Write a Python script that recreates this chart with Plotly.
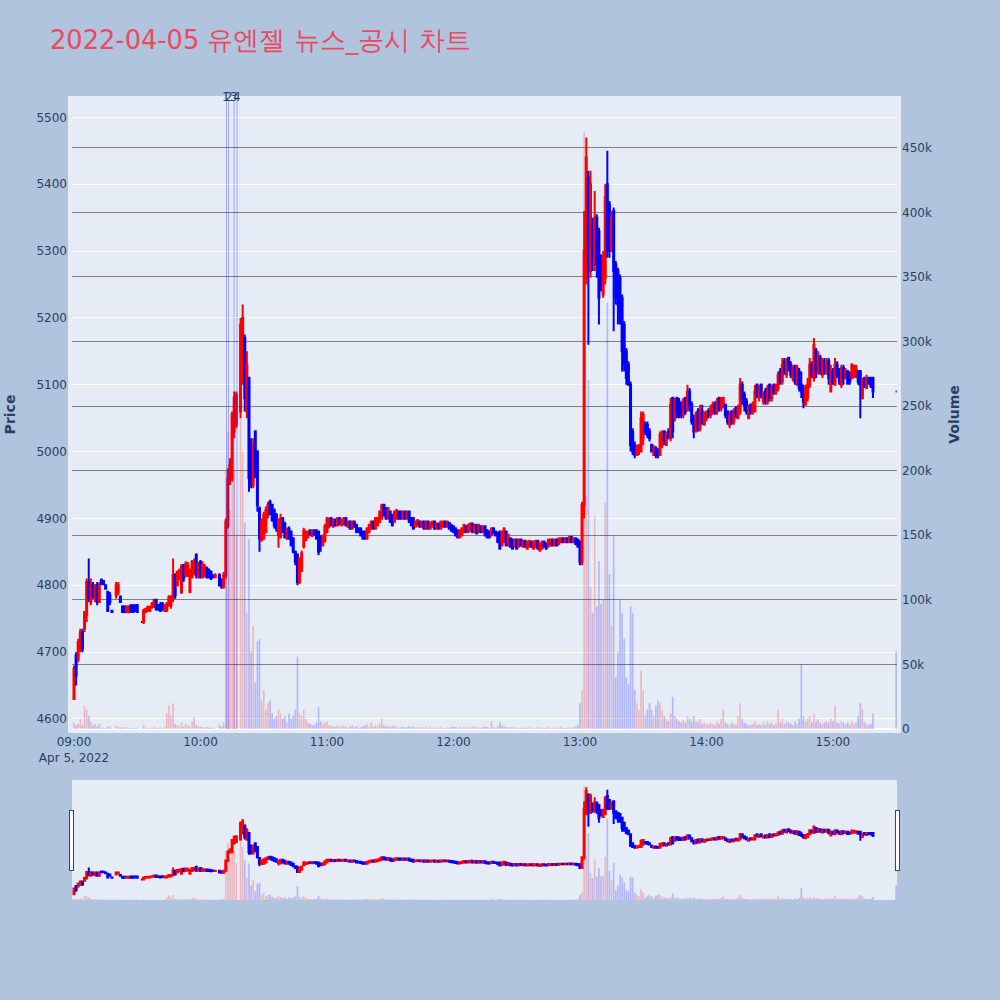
import pandas as pd
import plotly.graph_objects as go
from plotly.subplots import make_subplots

trade_date = "2022-04-05"
chart_title = "2022-04-05 유엔젤 뉴스_공시 차트"

# minutes after 09:00 that have a candle
minutes = (list(range(0, 19)) + list(range(20, 31)) + list(range(32, 68))
           + list(range(69, 78)) + list(range(79, 380)) + [390])

open_ = [
    # 09:00-09:18
    4630, 4695, 4690, 4705, 4730, 4735, 4755, 4805, 4775, 4800, 4780, 4800, 4775, 4808, 4806, 4800, 4790, 4785, 4762,
    # 09:20-09:30
    4785, 4790, 4782, 4768, 4768, 4760, 4760, 4770, 4770, 4770, 4770,
    # 09:32-10:07
    4745, 4745, 4760, 4762, 4762, 4768, 4768, 4778, 4770, 4770,
    4772, 4762, 4762, 4770, 4770, 4780, 4815, 4800, 4810, 4790,
    4830, 4815, 4815, 4790, 4812, 4818, 4845, 4815, 4835, 4812,
    4815, 4825, 4822, 4820, 4815, 4812,
    # 10:09-10:17
    4815, 4808, 4798, 4815, 4890, 4960, 4960, 5030, 5040,
    # 10:19-15:19
    5060, 5110, 5170, 5060, 5110, 5000, 4950, 5030, 5000, 4915,
    4868, 4870, 4880, 4905, 4925, 4920, 4912, 4905, 4875, 4872,
    4900, 4892, 4870, 4885, 4880, 4870, 4850, 4845, 4805, 4822,
    4858, 4868, 4872, 4882, 4874, 4882, 4882, 4880, 4872, 4860,
    4866, 4880, 4890, 4900, 4888, 4898, 4890, 4900, 4890, 4893,
    4900, 4888, 4895, 4885, 4895, 4890, 4885, 4885, 4880, 4880,
    4870, 4880, 4885, 4895, 4885, 4890, 4895, 4900, 4920, 4915,
    4900, 4910, 4905, 4895, 4900, 4910, 4910, 4900, 4910, 4900,
    4910, 4900, 4900, 4888, 4890, 4895, 4888, 4895, 4885, 4895,
    4885, 4888, 4895, 4885, 4892, 4885, 4888, 4895, 4888, 4893,
    4890, 4888, 4885, 4882, 4872, 4875, 4880, 4888, 4880, 4882,
    4892, 4880, 4890, 4880, 4888, 4880, 4888, 4882, 4880, 4875,
    4885, 4880, 4878, 4880, 4860, 4865, 4880, 4860, 4870, 4868,
    4858, 4868, 4858, 4868, 4858, 4866, 4855, 4858, 4865, 4855,
    4858, 4866, 4852, 4855, 4865, 4862, 4858, 4860, 4868, 4860,
    4868, 4862, 4865, 4870, 4865, 4870, 4865, 4872, 4865, 4870,
    4868, 4865, 4835, 4920, 5260, 5410, 5270, 5340, 5280, 5350,
    5330, 5290, 5235, 5260, 5400, 5370, 5300, 5360, 5280, 5270,
    5260, 5230, 5190, 5150, 5130, 5100, 5030, 5010, 4995, 5000,
    5000, 5020, 5040, 5040, 5030, 5010, 4995, 5005, 5000, 4995,
    5010, 5030, 5010, 5030, 5020, 5080, 5050, 5080, 5075, 5070,
    5055, 5080, 5065, 5090, 5070, 5050, 5030, 5060, 5035, 5060,
    5040, 5050, 5060, 5055, 5060, 5070, 5060, 5080, 5065, 5070,
    5070, 5060, 5040, 5060, 5045, 5065, 5050, 5060, 5100, 5085,
    5075, 5050, 5070, 5060, 5060, 5100, 5080, 5100, 5075, 5090,
    5075, 5100, 5080, 5100, 5090, 5095, 5120, 5105, 5135, 5115,
    5140, 5130, 5110, 5125, 5100, 5120, 5100, 5095, 5070, 5080,
    5100, 5130, 5110, 5150, 5120, 5140, 5115, 5135, 5120, 5135,
    5090, 5120, 5100, 5130, 5120, 5100, 5125, 5110, 5120, 5115,
    5110, 5115, 5112, 5120, 5120, 5080, 5110, 5095, 5110, 5110,
    5110,
    # 15:30
    5090,
]

high = [
    4680, 4700, 4720, 4735, 4735, 4760, 4810, 4840, 4810, 4805, 4800, 4805, 4805, 4810, 4808, 4800, 4792, 4790, 4762,
    4805, 4805, 4785, 4770, 4770, 4770, 4770, 4770, 4770, 4770, 4772,
    4745, 4765, 4765, 4768, 4768, 4775, 4780, 4780, 4772, 4775,
    4775, 4770, 4775, 4785, 4785, 4840, 4818, 4822, 4825, 4832,
    4832, 4836, 4835, 4825, 4838, 4840, 4848, 4835, 4838, 4836,
    4832, 4828, 4825, 4822, 4815, 4818,
    4818, 4810, 4820, 4900, 4975, 4990, 5060, 5090, 5090,
    5200, 5220, 5175, 5150, 5112, 5020, 5020, 5032, 5002, 4918,
    4900, 4910, 4918, 4925, 4928, 4922, 4915, 4908, 4900, 4907,
    4902, 4895, 4886, 4888, 4882, 4872, 4852, 4848, 4842, 4852,
    4886, 4882, 4882, 4884, 4884, 4884, 4884, 4882, 4875, 4876,
    4892, 4902, 4900, 4902, 4900, 4900, 4902, 4902, 4900, 4902,
    4902, 4897, 4897, 4897, 4897, 4892, 4887, 4887, 4882, 4882,
    4887, 4892, 4897, 4897, 4902, 4902, 4912, 4922, 4922, 4917,
    4917, 4912, 4907, 4912, 4914, 4912, 4912, 4912, 4912, 4912,
    4912, 4902, 4902, 4897, 4899, 4897, 4897, 4897, 4897, 4897,
    4895, 4897, 4897, 4894, 4894, 4897, 4897, 4897, 4897, 4895,
    4892, 4890, 4887, 4884, 4884, 4887, 4892, 4890, 4892, 4894,
    4894, 4892, 4892, 4892, 4890, 4890, 4890, 4884, 4882, 4887,
    4887, 4882, 4880, 4882, 4882, 4887, 4882, 4877, 4872, 4870,
    4870, 4870, 4870, 4870, 4868, 4868, 4867, 4868, 4867, 4867,
    4868, 4868, 4864, 4867, 4867, 4864, 4870, 4870, 4870, 4870,
    4870, 4872, 4872, 4872, 4872, 4872, 4874, 4874, 4872, 4872,
    4870, 4867, 4925, 5360, 5470, 5420, 5420, 5350, 5390, 5355,
    5335, 5295, 5300, 5400, 5450, 5375, 5360, 5365, 5285, 5275,
    5265, 5235, 5195, 5155, 5135, 5105, 5035, 5015, 5010, 5010,
    5060, 5060, 5045, 5045, 5035, 5012, 5010, 5008, 5005, 5030,
    5030, 5032, 5030, 5035, 5080, 5082, 5080, 5082, 5080, 5075,
    5080, 5082, 5100, 5095, 5075, 5055, 5060, 5065, 5070, 5070,
    5060, 5060, 5065, 5070, 5075, 5075, 5080, 5082, 5080, 5082,
    5072, 5062, 5060, 5062, 5065, 5068, 5070, 5110, 5105, 5090,
    5080, 5070, 5072, 5075, 5100, 5102, 5100, 5102, 5090, 5095,
    5100, 5102, 5100, 5102, 5100, 5120, 5125, 5140, 5140, 5140,
    5142, 5135, 5130, 5130, 5130, 5125, 5120, 5100, 5100, 5110,
    5140, 5135, 5170, 5155, 5150, 5145, 5140, 5140, 5140, 5140,
    5130, 5125, 5140, 5135, 5125, 5130, 5130, 5125, 5122, 5120,
    5132, 5130, 5130, 5122, 5122, 5110, 5112, 5115, 5112, 5112,
    5112,
    5090,
]

low = [
    4630, 4650, 4685, 4700, 4700, 4730, 4745, 4775, 4770, 4780, 4775, 4770, 4775, 4800, 4800, 4795, 4760, 4770, 4760,
    4780, 4785, 4775, 4760, 4758, 4758, 4758, 4760, 4760, 4760, 4760,
    4745, 4742, 4758, 4762, 4760, 4765, 4766, 4762, 4762, 4760,
    4762, 4760, 4760, 4768, 4765, 4775, 4780, 4798, 4808, 4787,
    4805, 4812, 4812, 4788, 4810, 4815, 4810, 4810, 4810, 4810,
    4812, 4810, 4810, 4808, 4812, 4812,
    4798, 4795, 4795, 4810, 4885, 4950, 4955, 5020, 5035,
    5050, 5100, 5060, 5050, 4940, 4945, 4945, 4960, 4910, 4850,
    4865, 4868, 4878, 4900, 4905, 4895, 4885, 4880, 4856, 4870,
    4878, 4870, 4868, 4868, 4858, 4848, 4830, 4800, 4802, 4820,
    4855, 4866, 4870, 4874, 4872, 4874, 4868, 4845, 4850, 4858,
    4864, 4878, 4885, 4888, 4886, 4888, 4888, 4890, 4888, 4890,
    4888, 4886, 4883, 4883, 4886, 4878, 4878, 4873, 4868, 4868,
    4868, 4878, 4883, 4883, 4883, 4888, 4893, 4898, 4903, 4898,
    4898, 4893, 4888, 4893, 4898, 4898, 4898, 4898, 4898, 4898,
    4893, 4888, 4883, 4886, 4888, 4886, 4886, 4883, 4883, 4883,
    4883, 4886, 4883, 4883, 4883, 4883, 4886, 4886, 4886, 4883,
    4880, 4878, 4873, 4870, 4870, 4873, 4878, 4878, 4878, 4880,
    4878, 4878, 4876, 4878, 4878, 4878, 4873, 4870, 4870, 4873,
    4876, 4873, 4863, 4853, 4858, 4863, 4858, 4858, 4856, 4853,
    4856, 4853, 4856, 4858, 4856, 4856, 4853, 4856, 4856, 4853,
    4856, 4853, 4850, 4853, 4856, 4853, 4856, 4858, 4858, 4858,
    4858, 4860, 4863, 4863, 4863, 4863, 4863, 4863, 4863, 4860,
    4856, 4830, 4830, 4900, 5250, 5160, 5260, 5270, 5270, 5260,
    5190, 5240, 5230, 5250, 5290, 5290, 5300, 5180, 5220, 5190,
    5190, 5120, 5120, 5100, 5100, 5000, 4995, 4990, 4995, 4995,
    5000, 5010, 5025, 5020, 5015, 5000, 4995, 4990, 4990, 4995,
    5005, 5010, 5010, 5020, 5015, 5020, 5045, 5050, 5050, 5050,
    5050, 5055, 5060, 5060, 5040, 5020, 5030, 5030, 5030, 5040,
    5040, 5045, 5050, 5050, 5055, 5055, 5055, 5060, 5060, 5065,
    5050, 5040, 5035, 5040, 5040, 5050, 5050, 5055, 5070, 5060,
    5055, 5050, 5055, 5055, 5060, 5080, 5075, 5080, 5070, 5070,
    5070, 5075, 5075, 5085, 5085, 5090, 5100, 5100, 5115, 5110,
    5120, 5110, 5105, 5100, 5100, 5090, 5080, 5065, 5070, 5075,
    5095, 5110, 5105, 5110, 5115, 5115, 5110, 5115, 5115, 5100,
    5090, 5100, 5100, 5110, 5100, 5095, 5100, 5108, 5100, 5100,
    5108, 5110, 5110, 5100, 5050, 5078, 5095, 5095, 5100, 5095,
    5080,
    5090,
]

close = [
    4675, 4665, 4715, 4730, 4705, 4760, 4805, 4780, 4800, 4785, 4800, 4775, 4800, 4802, 4802, 4795, 4762, 4775, 4760,
    4800, 4800, 4775, 4760, 4760, 4768, 4768, 4760, 4760, 4762, 4760,
    4745, 4762, 4765, 4768, 4768, 4772, 4778, 4765, 4765, 4762,
    4765, 4770, 4772, 4782, 4780, 4815, 4785, 4820, 4822, 4828,
    4810, 4832, 4830, 4820, 4835, 4835, 4815, 4830, 4812, 4830,
    4825, 4812, 4812, 4810, 4812, 4815,
    4800, 4798, 4815, 4895, 4960, 4980, 5055, 5080, 5085,
    5190, 5200, 5080, 5130, 4960, 4950, 5010, 4970, 4920, 4870,
    4895, 4905, 4912, 4920, 4908, 4898, 4890, 4885, 4895, 4900,
    4880, 4872, 4885, 4870, 4860, 4850, 4835, 4805, 4840, 4848,
    4882, 4878, 4880, 4876, 4882, 4876, 4870, 4850, 4860, 4874,
    4888, 4900, 4900, 4890, 4898, 4890, 4900, 4892, 4898, 4900,
    4890, 4895, 4885, 4895, 4888, 4880, 4880, 4875, 4870, 4870,
    4885, 4890, 4895, 4885, 4900, 4900, 4910, 4920, 4905, 4900,
    4915, 4895, 4890, 4910, 4912, 4900, 4900, 4910, 4900, 4910,
    4895, 4890, 4885, 4895, 4897, 4888, 4895, 4885, 4895, 4885,
    4893, 4895, 4885, 4892, 4885, 4895, 4895, 4888, 4895, 4885,
    4882, 4880, 4875, 4872, 4882, 4885, 4890, 4880, 4890, 4892,
    4880, 4890, 4878, 4890, 4880, 4888, 4875, 4872, 4872, 4885,
    4878, 4875, 4865, 4855, 4880, 4885, 4860, 4875, 4858, 4855,
    4868, 4855, 4868, 4860, 4866, 4858, 4865, 4866, 4858, 4865,
    4866, 4855, 4862, 4865, 4858, 4855, 4868, 4868, 4860, 4868,
    4860, 4870, 4870, 4865, 4870, 4865, 4872, 4865, 4870, 4862,
    4858, 4835, 4920, 5300, 5440, 5280, 5400, 5290, 5350, 5280,
    5230, 5250, 5290, 5380, 5300, 5300, 5350, 5270, 5230, 5220,
    5200, 5150, 5130, 5110, 5100, 5010, 5000, 4995, 5005, 5010,
    5050, 5055, 5030, 5025, 5020, 5000, 5005, 4995, 4995, 5025,
    5030, 5015, 5025, 5020, 5070, 5030, 5075, 5060, 5055, 5055,
    5075, 5060, 5090, 5070, 5045, 5030, 5055, 5035, 5060, 5045,
    5055, 5060, 5055, 5065, 5070, 5060, 5075, 5065, 5080, 5080,
    5055, 5045, 5055, 5045, 5060, 5055, 5065, 5100, 5080, 5070,
    5060, 5065, 5060, 5070, 5090, 5085, 5095, 5085, 5085, 5075,
    5095, 5080, 5095, 5090, 5100, 5115, 5105, 5130, 5120, 5135,
    5125, 5115, 5125, 5105, 5125, 5095, 5090, 5075, 5095, 5100,
    5130, 5115, 5160, 5120, 5140, 5120, 5135, 5120, 5135, 5110,
    5120, 5105, 5130, 5115, 5105, 5125, 5110, 5120, 5102, 5105,
    5130, 5128, 5125, 5105, 5100, 5105, 5098, 5110, 5102, 5098,
    5090,
    5090,
]

volume = [
    5000, 3000, 4000, 8000, 3000, 18000, 15000, 10000, 6000, 3000, 4000, 2000, 4000, 1000, 1000, 500, 2000, 1500, 500,
    2500, 2000, 1000, 1500, 1000, 1200, 800, 1000, 600, 800, 1000,
    500, 3000, 1000, 800, 1000, 800, 1500, 1000, 800, 1200,
    600, 1500, 12000, 18000, 10000, 20000, 4000, 3000, 2000, 5000,
    2000, 4000, 3000, 2000, 6000, 9000, 3000, 2000, 1500, 2000,
    1000, 1500, 1000, 1200, 500, 500,
    3000, 2000, 5000, 200000, 230000, 170000, 245000, 200000, 150000,
    240000, 215000, 160000, 90000, 147000, 60000, 80000, 36000, 68000, 70000,
    22000, 30000, 15000, 20000, 22000, 12000, 8000, 10000, 15000, 12000,
    8000, 10000, 5000, 12000, 8000, 10000, 15000, 56000, 12000, 10000,
    15000, 8000, 5000, 4000, 3000, 3000, 5000, 17000, 6000, 4000,
    5000, 6000, 3000, 2000, 2500, 1500, 3000, 1500, 2000, 2500,
    1500, 1000, 2000, 3000, 1500, 2000, 1000, 1500, 2000, 3000,
    4000, 2000, 5000, 1500, 3000, 2000, 4000, 8000, 3000, 2000,
    2500, 1500, 2000, 3000, 1500, 1000, 1500, 2000, 1000, 1500,
    2000, 1500, 2000, 1000, 1500, 1000, 1500, 1000, 2000, 1000,
    1500, 1000, 1200, 800, 1000, 1500, 1000, 800, 1200, 1000,
    1500, 2000, 1500, 1000, 1500, 1000, 2000, 1000, 1500, 1000,
    1500, 2000, 1000, 1500, 1000, 1500, 2000, 1500, 1000, 6000,
    1500, 1000, 2000, 5000, 3000, 2000, 1500, 1000, 1500, 1000,
    1500, 1000, 800, 1000, 1200, 800, 1000, 1500, 1000, 800,
    1000, 1500, 1000, 1200, 800, 1000, 1500, 1000, 800, 1000,
    1200, 1000, 1500, 1000, 800, 1000, 1200, 1000, 1500, 2000,
    3000, 20000, 30000, 462000, 180000, 270000, 110000, 90000, 165000, 95000,
    130000, 97000, 100000, 175000, 330000, 120000, 80000, 150000, 40000, 60000,
    100000, 90000, 70000, 40000, 35000, 95000, 90000, 30000, 20000, 15000,
    45000, 30000, 10000, 15000, 20000, 15000, 10000, 18000, 22000, 20000,
    15000, 10000, 8000, 6000, 12000, 25000, 10000, 8000, 6000, 5000,
    7000, 5000, 10000, 8000, 6000, 10000, 6000, 5000, 8000, 4000,
    5000, 4000, 3000, 5000, 4000, 3000, 6000, 4000, 8000, 15000,
    5000, 4000, 3000, 5000, 4000, 3000, 10000, 20000, 8000, 5000,
    4000, 3000, 3000, 4000, 6000, 3000, 4000, 3000, 5000, 3000,
    6000, 4000, 5000, 3000, 4000, 15000, 5000, 8000, 4000, 6000,
    5000, 4000, 3000, 6000, 4000, 8000, 50000, 10000, 6000, 8000,
    10000, 5000, 12000, 6000, 8000, 5000, 4000, 5000, 6000, 5000,
    8000, 6000, 18000, 5000, 4000, 6000, 5000, 4000, 5000, 3000,
    6000, 4000, 5000, 10000, 20000, 15000, 5000, 4000, 3000, 4000,
    12000,
    60000,
]

news_times = ["2022-04-05 10:12:20", "2022-04-05 10:13:20",
              "2022-04-05 10:15:55", "2022-04-05 10:17:20"]
news_labels = ["1", "2", "3", "4"]

x_range = ["2022-04-05 08:59:03", "2022-04-05 15:30:24"]
price_range = [4585, 5526]
volume_range = [0, 487000]

times = pd.Timestamp(trade_date + " 09:00") + pd.to_timedelta(minutes, unit="m")

vol_colors = ["rgba(255,0,0,0.22)" if c > o else "rgba(0,0,255,0.22)"
              for o, c in zip(open_, close)]

fig = make_subplots(specs=[[{"secondary_y": True}]])

fig.add_trace(go.Candlestick(
    x=times, open=open_, high=high, low=low, close=close, name="Price",
    increasing=dict(line=dict(color="red", width=2), fillcolor="red"),
    decreasing=dict(line=dict(color="blue", width=2), fillcolor="blue"),
), secondary_y=False)

fig.add_trace(go.Bar(
    x=times, y=volume, name="Volume",
    marker=dict(color=vol_colors, line=dict(width=0)),
), secondary_y=True)

for t, lab in zip(news_times, news_labels):
    fig.add_shape(type="line", x0=t, x1=t, y0=0, y1=1, xref="x", yref="paper",
                  line=dict(color="rgba(0,0,255,0.3)", width=1))
    fig.add_annotation(x=t, y=1, xref="x", yref="paper", text=lab, showarrow=False,
                       yanchor="bottom", yshift=-6,
                       font=dict(size=12, color="#2a3f5f"))

fig.update_layout(
    width=1000, height=1000,
    font=dict(family="DejaVu Sans"),
    paper_bgcolor="#B0C4DE", plot_bgcolor="#E5ECF6",
    title=dict(text=chart_title, x=0.05, xanchor="left", y=0.96, yanchor="middle",
               font=dict(size=25.7, color="#EC4860")),
    margin=dict(l=72, r=103, t=100, b=100, pad=4),
    showlegend=False,
    bargap=0.2,
)
fig.update_xaxes(domain=[0, 1], range=x_range, showgrid=False, automargin=False,
                 rangeslider=dict(visible=True, range=x_range, thickness=0.15))
fig.update_yaxes(title=dict(text="<b>Price</b>", font=dict(size=14), standoff=21),
                 range=price_range, automargin=False, secondary_y=False)
fig.update_yaxes(title=dict(text="<b>Volume</b>", font=dict(size=14), standoff=22),
                 range=volume_range, gridcolor="gray", automargin=False, secondary_y=True)

fig.write_html("out.html", config={"displayModeBar": False},
               post_script="document.body.style.margin='0px';")
